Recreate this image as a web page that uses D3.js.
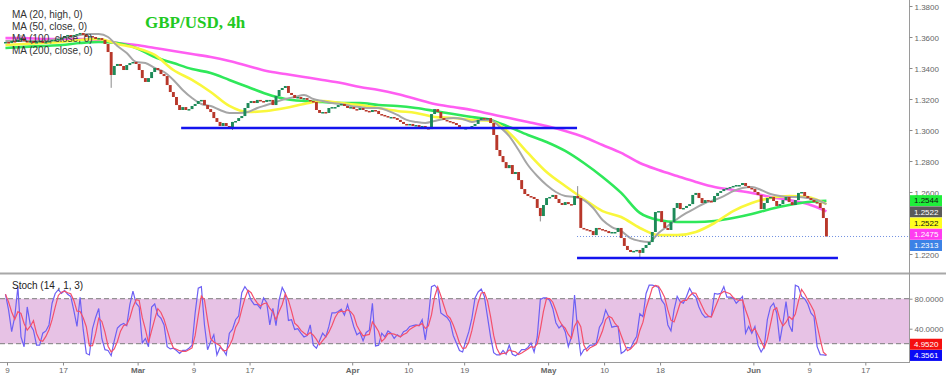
<!DOCTYPE html>
<html>
<head>
<meta charset="utf-8">
<script src="https://cdn.jsdelivr.net/npm/d3@7"></script>
<style>
  body { margin: 0; background: #fff; }
  svg { display: block; }
  text { font-family: 'Liberation Sans', Arial, sans-serif; }
</style>
</head>
<body>
<div id="chart"></div>
<script>
// GBP/USD candles (8h buckets), first close is the last slot of Feb 8
const firstDay = '2022-02-08';
const firstSlot = 2;
const slotsPerDay = 3;

const closes = [
  1.3568,
  1.3561, 1.3574, 1.3568, 1.3581, 1.3593, 1.3574, 1.3568, 1.3574, 1.3561,
  1.3568, 1.3574, 1.3561, 1.3568, 1.3574, 1.3581, 1.3581, 1.3587, 1.3593,
  1.3606, 1.3613, 1.3606, 1.3613, 1.3619, 1.3626, 1.3613, 1.3600, 1.3606,
  1.3600, 1.3587, 1.3593, 1.3581, 1.3555, 1.3503, 1.3355, 1.3413, 1.3426,
  1.3413, 1.3387, 1.3419, 1.3432, 1.3439, 1.3426, 1.3387, 1.3335, 1.3310,
  1.3335, 1.3374, 1.3400, 1.3387, 1.3361, 1.3348, 1.3290, 1.3245, 1.3213,
  1.3161, 1.3129, 1.3148, 1.3129, 1.3135, 1.3155, 1.3168, 1.3187, 1.3194,
  1.3161, 1.3135, 1.3116, 1.3077, 1.3052, 1.3026, 1.3045, 1.3026, 1.3013,
  1.3052, 1.3058, 1.3077, 1.3090, 1.3142, 1.3174, 1.3187, 1.3174, 1.3194,
  1.3187, 1.3181, 1.3194, 1.3194, 1.3161, 1.3219, 1.3258, 1.3271, 1.3284,
  1.3239, 1.3226, 1.3206, 1.3213, 1.3200, 1.3206, 1.3194, 1.3187, 1.3181,
  1.3129, 1.3110, 1.3116, 1.3110, 1.3142, 1.3148, 1.3148, 1.3161, 1.3168,
  1.3155, 1.3142, 1.3148, 1.3135, 1.3129, 1.3142, 1.3129, 1.3123, 1.3116,
  1.3129, 1.3123, 1.3103, 1.3097, 1.3090, 1.3084, 1.3084, 1.3077, 1.3065,
  1.3052, 1.3039, 1.3032, 1.3039, 1.3026, 1.3032, 1.3019, 1.3026, 1.3013,
  1.3006, 1.3103, 1.3135, 1.3116, 1.3077, 1.3065, 1.3058, 1.3052, 1.3045,
  1.3032, 1.3019, 1.3013, 1.3013, 1.3019, 1.3026, 1.3039, 1.3065, 1.3077,
  1.3071, 1.3077, 1.3045, 1.2968, 1.2871, 1.2832, 1.2793, 1.2754, 1.2774,
  1.2716, 1.2729, 1.2677, 1.2619, 1.2587, 1.2574, 1.2568, 1.2555, 1.2497,
  1.2445, 1.2516, 1.2561, 1.2568, 1.2581, 1.2555, 1.2529, 1.2516, 1.2535,
  1.2522, 1.2516, 1.2574, 1.2561, 1.2368, 1.2361, 1.2355, 1.2348, 1.2322,
  1.2368, 1.2361, 1.2355, 1.2348, 1.2335, 1.2342, 1.2342, 1.2368, 1.2303,
  1.2252, 1.2226, 1.2213, 1.2220, 1.2226, 1.2207, 1.2239, 1.2258, 1.2277,
  1.2342, 1.2471, 1.2477, 1.2406, 1.2368, 1.2355, 1.2406, 1.2497, 1.2529,
  1.2490, 1.2497, 1.2510, 1.2522, 1.2581, 1.2594, 1.2561, 1.2529, 1.2548,
  1.2542, 1.2535, 1.2574, 1.2594, 1.2606, 1.2619, 1.2626, 1.2632, 1.2639,
  1.2645, 1.2645, 1.2658, 1.2639, 1.2626, 1.2619, 1.2600, 1.2581, 1.2490,
  1.2529, 1.2561, 1.2568, 1.2542, 1.2510, 1.2522, 1.2548, 1.2568, 1.2535,
  1.2516, 1.2548, 1.2594, 1.2600, 1.2574, 1.2561, 1.2548, 1.2535, 1.2529,
  1.2497, 1.2432, 1.2313
];

// the few long wicks that stand out, keyed by candle index
const wickHighs = { 5: 1.3613, 184: 1.2638 };
const wickLows = { 34: 1.3272, 73: 1.3000, 172: 1.2410, 204: 1.2175 };

// moving averages: ma20High every 3 candles, the others every 6
const ma20High = [
  1.3574, 1.3574, 1.3574, 1.3574, 1.3574,
  1.3581, 1.3593, 1.3600, 1.3613, 1.3619, 1.3619, 1.3600, 1.3542, 1.3497, 1.3439,
  1.3432, 1.3400, 1.3374, 1.3323, 1.3258, 1.3206, 1.3168, 1.3155, 1.3129, 1.3110,
  1.3110, 1.3116, 1.3142, 1.3161, 1.3181, 1.3200, 1.3213, 1.3226, 1.3200, 1.3187,
  1.3174, 1.3168, 1.3155, 1.3148, 1.3142, 1.3142, 1.3123, 1.3097, 1.3065, 1.3052,
  1.3045, 1.3058, 1.3071, 1.3077, 1.3071, 1.3052, 1.3065, 1.3065, 1.3019, 1.2961,
  1.2871, 1.2774, 1.2703, 1.2645, 1.2600, 1.2574, 1.2568, 1.2548, 1.2497, 1.2419,
  1.2374, 1.2348, 1.2303, 1.2284, 1.2277, 1.2335, 1.2381, 1.2426, 1.2465, 1.2497,
  1.2529, 1.2548, 1.2574, 1.2606, 1.2626, 1.2632, 1.2613, 1.2587, 1.2574, 1.2568,
  1.2568, 1.2561, 1.2548, 1.2522
];
const ma50 = [
  1.3548, 1.3555, 1.3561, 1.3568, 1.3581, 1.3587, 1.3555, 1.3529, 1.3484, 1.3387,
  1.3323, 1.3245, 1.3155, 1.3116, 1.3123, 1.3142, 1.3168, 1.3187, 1.3174, 1.3161,
  1.3142, 1.3123, 1.3110, 1.3084, 1.3077, 1.3065, 1.3058, 1.2981, 1.2852, 1.2729,
  1.2639, 1.2555, 1.2477, 1.2439, 1.2368, 1.2322, 1.2322, 1.2342, 1.2400, 1.2477,
  1.2529, 1.2561, 1.2574, 1.2568, 1.2522
];
const ma100 = [
  1.3529, 1.3536, 1.3542, 1.3548, 1.3561, 1.3568, 1.3561, 1.3529, 1.3471, 1.3432,
  1.3393, 1.3368, 1.3323, 1.3277, 1.3232, 1.3200, 1.3187, 1.3181, 1.3174, 1.3174,
  1.3161, 1.3155, 1.3142, 1.3123, 1.3103, 1.3084, 1.3065, 1.3019, 1.2968, 1.2923,
  1.2865, 1.2787, 1.2697, 1.2594, 1.2465, 1.2419, 1.2406, 1.2406, 1.2413, 1.2432,
  1.2458, 1.2490, 1.2516, 1.2535, 1.2544
];
const ma200 = [
  1.3593, 1.3593, 1.3587, 1.3587, 1.3587, 1.3581, 1.3561, 1.3548, 1.3529, 1.3510,
  1.3490, 1.3471, 1.3445, 1.3413, 1.3381, 1.3361, 1.3342, 1.3323, 1.3303, 1.3277,
  1.3258, 1.3232, 1.3200, 1.3168, 1.3148, 1.3129, 1.3103, 1.3077, 1.3052, 1.3026,
  1.2994, 1.2955, 1.2903, 1.2852, 1.2787, 1.2742, 1.2703, 1.2665, 1.2632, 1.2613,
  1.2594, 1.2568, 1.2548, 1.2522, 1.2475
];

// stochastic %K (14, 1), one value per candle; %D is its 3-period average
const stochK = [
  86, 65, 36, 56, 96, 29, 16, 69, 45, 38,
  18, 18, 34, 37, 45, 74, 87, 92, 87, 91,
  86, 83, 64, 43, 82, 39, 7, 5, 40, 55,
  67, 27, 12, 11, 4, 24, 41, 45, 47, 44,
  72, 90, 74, 69, 21, 27, 16, 69, 73, 58,
  54, 45, 16, 13, 14, 11, 7, 11, 11, 14,
  18, 61, 94, 96, 45, 12, 23, 32, 5, 15,
  12, 5, 34, 39, 52, 57, 88, 96, 90, 78,
  72, 72, 67, 81, 75, 45, 67, 44, 78, 95,
  87, 51, 52, 39, 40, 34, 29, 31, 45, 18,
  14, 24, 34, 29, 43, 61, 61, 63, 66, 58,
  72, 58, 43, 32, 35, 24, 35, 38, 74, 17,
  18, 34, 29, 37, 34, 27, 32, 29, 36, 38,
  43, 44, 45, 44, 52, 25, 54, 96, 98, 93,
  61, 58, 55, 49, 31, 21, 11, 9, 23, 36,
  54, 81, 89, 93, 83, 56, 29, 8, 5, 5,
  11, 6, 18, 6, 4, 7, 12, 12, 15, 21,
  9, 29, 79, 81, 81, 78, 67, 48, 41, 45,
  36, 16, 29, 85, 38, 5, 12, 14, 18, 18,
  21, 42, 49, 65, 56, 42, 43, 43, 7, 10,
  15, 14, 23, 30, 60, 56, 87, 98, 98, 97,
  95, 78, 72, 45, 37, 65, 83, 76, 74, 83,
  94, 86, 82, 69, 60, 55, 56, 56, 87, 86,
  87, 96, 82, 82, 81, 74, 78, 83, 34, 43,
  34, 43, 18, 9, 16, 52, 69, 74, 61, 23,
  47, 76, 45, 36, 98, 96, 83, 80, 73, 61,
  56, 16, 5.5, 5.0, 4.3561
];

// drawn support levels, from/to in candle index units
const supportLines = [
  { from: 56.5, to: 183.8, price: 1.3013 },
  { from: 183.8, to: 267.7, price: 1.2174 }
];

const priceTicks = [1.22, 1.24, 1.26, 1.28, 1.30, 1.32, 1.34, 1.36, 1.38];
const stochTicks = [40, 80];
const stochBand = [20, 80];

const timeTicks = [
  ['2022-02-09', '9'], ['2022-02-17', '17'], ['2022-03-01', 'Mar'], ['2022-03-09', '9'],
  ['2022-03-17', '17'], ['2022-04-01', 'Apr'], ['2022-04-10', '10'], ['2022-04-19', '19'],
  ['2022-05-01', 'May'], ['2022-05-10', '10'], ['2022-05-18', '18'], ['2022-06-01', 'Jun'],
  ['2022-06-09', '9'], ['2022-06-17', '17']
];
const monthLabels = ['Mar', 'Apr', 'May', 'Jun'];

const legendLabels = ['MA (20, high, 0)', 'MA (50, close, 0)', 'MA (100, close, 0)', 'MA (200, close, 0)'];
const title = 'GBP/USD, 4h';
const stochLabel = 'Stoch (14 , 1, 3)';

// ---- layout ----
const width = 950, height = 379;
const axisX = 909.5;
const mainBottom = 273;
const stochTop = 273, stochBottom = 362;

const parse = d3.timeParse('%Y-%m-%d');
const tradingDays = d3.timeDay.range(parse(firstDay), parse('2022-06-30'))
  .filter(d => d.getDay() !== 0 && d.getDay() !== 6);
const dayPos = s => d3.bisectLeft(tradingDays, parse(s));
const candlePos = i => (firstSlot + i + 0.5) / slotsPerDay;

const x = d3.scaleLinear().domain([1, 89]).range([7, 828]);
const y = d3.scaleLinear().domain([1.22, 1.38]).range([254, 6]);
const yS = d3.scaleLinear().domain([0, 100]).range([358.7, 283.7]);

const svg = d3.select('#chart').append('svg')
  .attr('width', width)
  .attr('height', height);

const defs = svg.append('defs');
defs.append('clipPath').attr('id', 'clipMain')
  .append('rect').attr('x', 0).attr('y', 0).attr('width', axisX).attr('height', mainBottom);
defs.append('clipPath').attr('id', 'clipStoch')
  .append('rect').attr('x', 0).attr('y', stochTop + 1).attr('width', axisX).attr('height', stochBottom - stochTop - 1);

// ---- main panel ----
const main = svg.append('g').attr('clip-path', 'url(#clipMain)');

const maSeries = [
  { values: ma200, step: 6, color: '#ff5ef2', width: 2.6 },
  { values: ma100, step: 6, color: '#2fe85a', width: 2.6 },
  { values: ma50, step: 6, color: '#f9f73c', width: 2.6 },
  { values: ma20High, step: 3, color: '#a6a6a6', width: 2 }
];

const maLine = step => d3.line()
  .x((d, k) => x(candlePos(k * step)))
  .y(d => y(d))
  .curve(d3.curveMonotoneX);

main.selectAll('.ma')
  .data(maSeries)
  .enter()
  .append('path')
  .classed('ma', true)
  .attr('d', s => maLine(s.step)(s.values))
  .style('fill', 'none')
  .style('stroke', s => s.color)
  .style('stroke-width', s => s.width)
  .style('stroke-linejoin', 'round');

const candles = closes.map((c, i) => {
  const o = i === 0 ? c : closes[i - 1];
  return {
    i, o, c,
    h: Math.max(o, c, wickHighs[i] || -Infinity),
    l: Math.min(o, c, wickLows[i] || Infinity)
  };
});

main.selectAll('.wick')
  .data(candles.filter(d => wickHighs[d.i] || wickLows[d.i]))
  .enter()
  .append('line')
  .classed('wick', true)
  .attr('x1', d => x(candlePos(d.i)))
  .attr('x2', d => x(candlePos(d.i)))
  .attr('y1', d => y(d.h))
  .attr('y2', d => y(d.l))
  .style('stroke', '#8a8a8a')
  .style('stroke-width', 1);

const bodyW = 2.9;
main.selectAll('.candle')
  .data(candles)
  .enter()
  .append('rect')
  .classed('candle', true)
  .attr('x', d => x(candlePos(d.i)) - bodyW / 2)
  .attr('width', bodyW)
  .attr('y', d => y(Math.max(d.o, d.c)))
  .attr('height', d => Math.max(1.5, Math.abs(y(d.o) - y(d.c))))
  .style('fill', d => d.c >= d.o ? '#1d8a58' : '#b8372a');

main.selectAll('.support')
  .data(supportLines)
  .enter()
  .append('line')
  .classed('support', true)
  .attr('x1', d => x(candlePos(d.from)))
  .attr('x2', d => x(candlePos(d.to)))
  .attr('y1', d => y(d.price))
  .attr('y2', d => y(d.price))
  .style('stroke', '#1414ee')
  .style('stroke-width', 2.6);

const lastClose = closes[closes.length - 1];
main.append('line')
  .attr('x1', x(candlePos(supportLines[1].from)))
  .attr('x2', axisX)
  .attr('y1', y(lastClose))
  .attr('y2', y(lastClose))
  .style('stroke', '#6f8fe0')
  .style('stroke-width', 1)
  .style('stroke-dasharray', '1,2');

// ---- stochastic panel ----
const stochD = stochK.map((v, i) => d3.mean(stochK.slice(Math.max(0, i - 2), i + 1)));
const stoch = svg.append('g').attr('clip-path', 'url(#clipStoch)');

stoch.append('rect')
  .attr('x', 0)
  .attr('width', axisX)
  .attr('y', yS(stochBand[1]))
  .attr('height', yS(stochBand[0]) - yS(stochBand[1]))
  .style('fill', '#e7c2e5');

stoch.selectAll('.band-line')
  .data(stochBand)
  .enter()
  .append('line')
  .classed('band-line', true)
  .attr('x1', 0)
  .attr('x2', axisX)
  .attr('y1', d => yS(d))
  .attr('y2', d => yS(d))
  .style('stroke', '#7d7d7d')
  .style('stroke-width', 1)
  .style('stroke-dasharray', '5,3');

const stochLine = d3.line()
  .x((d, i) => x(candlePos(i)))
  .y(d => yS(d));

stoch.append('path')
  .attr('d', stochLine(stochK))
  .style('fill', 'none')
  .style('stroke', '#6d60f4')
  .style('stroke-width', 1.2);

stoch.append('path')
  .attr('d', stochLine(stochD))
  .style('fill', 'none')
  .style('stroke', '#f4506c')
  .style('stroke-width', 1.2);

// ---- frame ----
svg.append('line')
  .attr('x1', 0).attr('x2', 946)
  .attr('y1', stochTop + 0.5).attr('y2', stochTop + 0.5)
  .style('stroke', '#a8a8a8')
  .style('stroke-width', 2);

svg.append('line')
  .attr('x1', 0).attr('x2', axisX)
  .attr('y1', stochBottom + 0.5).attr('y2', stochBottom + 0.5)
  .style('stroke', '#9a9a9a')
  .style('stroke-width', 1);

svg.append('line')
  .attr('x1', axisX).attr('x2', axisX)
  .attr('y1', 0).attr('y2', stochBottom + 1)
  .style('stroke', '#9a9a9a')
  .style('stroke-width', 1);

// ---- axes ----
const priceAxis = d3.axisRight(y)
  .tickValues(priceTicks)
  .tickFormat(d3.format('.4f'))
  .tickSize(3)
  .tickPadding(2);

const stochAxis = d3.axisRight(yS)
  .tickValues(stochTicks)
  .tickFormat(d3.format('.4f'))
  .tickSize(3)
  .tickPadding(2);

const priceAxisG = svg.append('g')
  .classed('axis', true)
  .attr('transform', `translate(${axisX},0)`)
  .call(priceAxis);

priceAxisG.selectAll('text').attr('dy', '0.45em');

const stochAxisG = svg.append('g')
  .classed('axis', true)
  .attr('transform', `translate(${axisX},0)`)
  .call(stochAxis);

const tickPos = timeTicks.map(t => dayPos(t[0]));
const timeAxis = d3.axisBottom(x)
  .tickValues(tickPos)
  .tickFormat((d, i) => timeTicks[i][1])
  .tickSize(3)
  .tickPadding(2);

const timeAxisG = svg.append('g')
  .classed('axis', true)
  .attr('transform', `translate(0,${stochBottom + 0.5})`)
  .call(timeAxis);

timeAxisG.selectAll('text')
  .style('font-weight', (d, i) => monthLabels.includes(timeTicks[i][1]) ? 'bold' : 'normal');

d3.selectAll('.axis path').remove();
d3.selectAll('.axis line').style('stroke', '#8a8a8a');
d3.selectAll('.axis text')
  .style('font-size', '8px')
  .style('fill', '#666');

// ---- value tags on the right ----
const mainTags = [
  { v: ma100[ma100.length - 1], bg: '#1fee3a', fg: '#111' },
  { v: ma20High[ma20High.length - 1], bg: '#5a5a5a', fg: '#fff' },
  { v: ma50[ma50.length - 1], bg: '#ffff1e', fg: '#111' },
  { v: ma200[ma200.length - 1], bg: '#ff3cf0', fg: '#fff' },
  { v: lastClose, bg: '#3c82e6', fg: '#fff' }
];
const stochTags = [
  { v: stochK[stochK.length - 1], bg: '#0a0af5', fg: '#fff' },
  { v: stochD[stochD.length - 1], bg: '#f50f0f', fg: '#fff' }
];

const tagStep = 11.2;
const tagH = 11;
let prev = -Infinity;
mainTags.forEach(t => { t.y = Math.max(y(t.v), prev + tagStep); prev = t.y; });
prev = Infinity;
stochTags.forEach(t => { t.y = Math.min(yS(t.v), prev - tagStep); prev = t.y; });

const tags = svg.selectAll('.tag')
  .data(mainTags.concat(stochTags))
  .enter()
  .append('g')
  .classed('tag', true)
  .attr('transform', d => `translate(${axisX + 0.5},${d.y})`);

tags.append('rect')
  .attr('x', 0)
  .attr('y', -tagH / 2)
  .attr('width', 32)
  .attr('height', tagH)
  .style('fill', d => d.bg);

tags.append('text')
  .attr('x', 4)
  .attr('dy', '0.35em')
  .text(d => d.v.toFixed(4))
  .style('font-size', '8px')
  .style('fill', d => d.fg);

// ---- legends ----
svg.selectAll('.legend')
  .data(legendLabels)
  .enter()
  .append('text')
  .classed('legend', true)
  .attr('x', 12)
  .attr('y', (d, i) => 17.5 + i * 12)
  .text(d => d)
  .style('font-size', '10px')
  .style('fill', '#333');

svg.append('text')
  .attr('x', 145)
  .attr('y', 28)
  .text(title)
  .style('font-family', "'Liberation Serif', 'Times New Roman', serif")
  .style('font-weight', 'bold')
  .style('font-size', '17px')
  .style('fill', '#22c922');

svg.append('text')
  .attr('x', 12)
  .attr('y', 289)
  .text(stochLabel)
  .style('font-size', '10px')
  .style('fill', '#222');
</script>
</body>
</html>
